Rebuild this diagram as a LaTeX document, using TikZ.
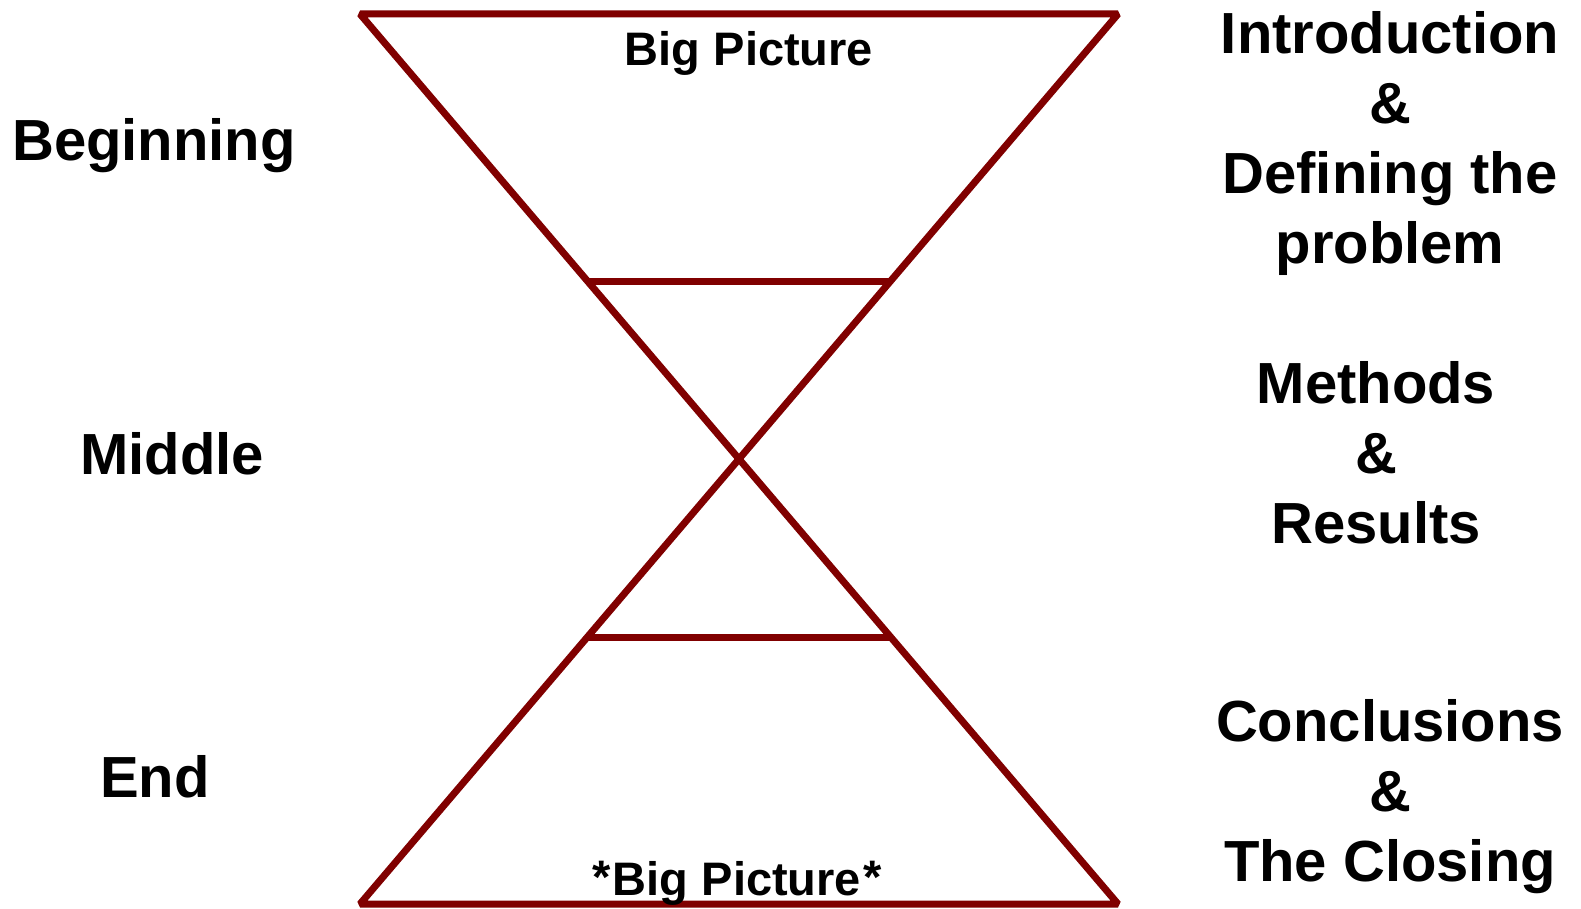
\documentclass[tikz,border=0pt]{standalone}
\usepackage{fontspec}
\setmainfont{Liberation Sans}
\usetikzlibrary{positioning}
\usetikzlibrary{calc}

\definecolor{glassred}{RGB}{128,0,0}

\begin{document}
\begin{tikzpicture}[x=1pt,y=-1pt,
  glass/.style={draw=glassred,line width=7pt,line join=bevel},
  sidelbl/.style={font=\fontsize{58}{70}\selectfont\bfseries,inner sep=0pt,anchor=base},
  blocklbl/.style={font=\fontsize{58}{70}\selectfont\bfseries,inner sep=0pt,align=center},
  piclbl/.style={font=\fontsize{47}{56}\selectfont\bfseries,inner sep=0pt,anchor=base}]
\useasboundingbox (0,0) rectangle (1581,909);
% hourglass
\coordinate (TL) at (360,14);
\coordinate (TR) at (1118,14);
\coordinate (BL) at (360,904);
\coordinate (BR) at (1118,904);
\draw[glass] (TL) -- (TR) -- (BL) -- (BR) -- cycle;
\draw[glass] ($(TL)!0.3!(BR)$) -- ($(TR)!0.3!(BL)$);
\draw[glass] ($(TL)!0.7!(BR)$) -- ($(TR)!0.7!(BL)$);

\node[piclbl] (bigtop) at (749,66) {Big Picture};
\node[piclbl] (bigbottom) at (737,895) {\raisebox{2pt}{*}\kern2pt Big Picture\kern2pt\raisebox{2pt}{*}};

% left side
\node[sidelbl] (beginning) at (154,161) {Beginning};
\node[sidelbl] (middle) at (172,474) {Middle};
\node[sidelbl] (end) at (155,797) {End};

% right side
\node[blocklbl] (intro) at (1390,144) {Introduction\\\&\\Defining the\\problem};
\node[blocklbl] (methods) at (1376,453) {Methods\\\&\\Results};
\node[blocklbl] (closing) at (1390,797) {Conclusions\\\&\\The Closing};

\end{tikzpicture}
\end{document}
